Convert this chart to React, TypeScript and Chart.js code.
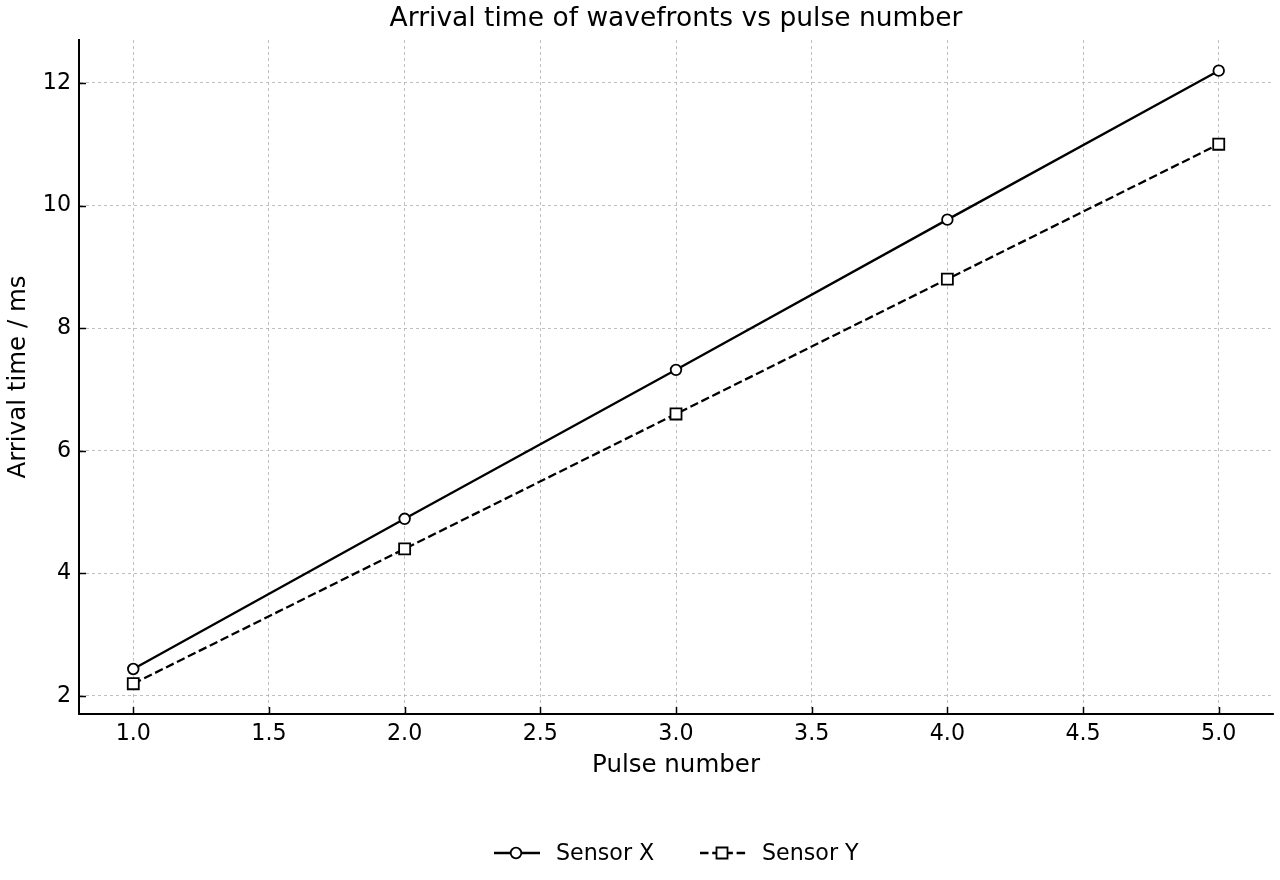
import { useEffect, useRef } from 'react';
import { Chart, registerables } from 'chart.js';

Chart.register(...registerables);

const FONT = '"DejaVu Sans", sans-serif';

const pulseNumbers = [1, 2, 3, 4, 5];
const sensorX = [2.44, 4.89, 7.32, 9.77, 12.2];
const sensorY = [2.2, 4.4, 6.6, 8.8, 11.0];
const xTickValues = [1.0, 1.5, 2.0, 2.5, 3.0, 3.5, 4.0, 4.5, 5.0];
const yTickValues = [2, 4, 6, 8, 10, 12];
const seriesNames = ['Sensor X', 'Sensor Y'];
const chartTitle = 'Arrival time of wavefronts vs pulse number';
const xLabel = 'Pulse number';
const yLabel = 'Arrival time / ms';

const DASH = [8.5, 3.7];
const LINE_W = 2.3;

const decorPlugin = {
  id: 'decor',
  afterDraw(chart: any) {
    const { ctx, chartArea, scales } = chart;
    const xs = scales.x;
    const ys = scales.y;
    ctx.save();
    // inward ticks
    ctx.strokeStyle = '#000';
    ctx.lineWidth = 1.5;
    ctx.setLineDash([]);
    ctx.beginPath();
    for (const v of yTickValues) {
      const py = Math.round(ys.getPixelForValue(v)) + 0.5;
      ctx.moveTo(chartArea.left, py);
      ctx.lineTo(chartArea.left + 7, py);
    }
    for (const v of xTickValues) {
      const px = Math.round(xs.getPixelForValue(v)) + 0.5;
      ctx.moveTo(px, chartArea.bottom);
      ctx.lineTo(px, chartArea.bottom - 7);
    }
    ctx.stroke();

    // title
    const cx = (chartArea.left + chartArea.right) / 2;
    ctx.fillStyle = '#000';
    ctx.font = `26.5px ${FONT}`;
    ctx.textAlign = 'center';
    ctx.textBaseline = 'middle';
    ctx.fillText(chartTitle, cx, 19);

    // legend
    const ly = 853;
    ctx.font = `22.2px ${FONT}`;
    ctx.textAlign = 'left';
    ctx.textBaseline = 'middle';
    const items = [
      { x0: cx - 182, dash: [] as number[], style: 'circle', name: seriesNames[0] },
      { x0: cx + 24, dash: DASH, style: 'rect', name: seriesNames[1] },
    ];
    for (const it of items) {
      ctx.strokeStyle = '#000';
      ctx.lineWidth = LINE_W;
      ctx.setLineDash(it.dash);
      ctx.beginPath();
      ctx.moveTo(it.x0, ly);
      ctx.lineTo(it.x0 + 46, ly);
      ctx.stroke();
      ctx.setLineDash([]);
      ctx.lineWidth = 1.8;
      ctx.fillStyle = '#fff';
      const mx = it.x0 + 22;
      ctx.beginPath();
      if (it.style === 'circle') {
        ctx.arc(mx, ly, 5.3, 0, Math.PI * 2);
      } else {
        ctx.rect(mx - 5.5, ly - 5.5, 11, 11);
      }
      ctx.fill();
      ctx.stroke();
      ctx.fillStyle = '#000';
      ctx.fillText(it.name, it.x0 + 62, ly + 1);
    }
    ctx.restore();
  },
};

export default function App() {
  const ref = useRef<HTMLCanvasElement>(null);
  useEffect(() => {
    const chart = new Chart(ref.current!, {
      type: 'line',
      data: {
        datasets: [
          {
            label: seriesNames[0],
            data: pulseNumbers.map((p, i) => ({ x: p, y: sensorX[i] })),
            borderColor: '#000',
            borderWidth: LINE_W,
            pointStyle: 'circle',
            pointRadius: 5.3,
            pointBackgroundColor: '#fff',
            pointBorderColor: '#000',
            pointBorderWidth: 1.8,
            tension: 0,
          },
          {
            label: seriesNames[1],
            data: pulseNumbers.map((p, i) => ({ x: p, y: sensorY[i] })),
            borderColor: '#000',
            borderWidth: LINE_W,
            borderDash: DASH,
            pointStyle: 'rect',
            pointRadius: 7.8,
            pointBackgroundColor: '#fff',
            pointBorderColor: '#000',
            pointBorderWidth: 1.8,
            tension: 0,
          },
        ],
      },
      options: {
        responsive: false,
        animation: false,
        devicePixelRatio: 1,
        layout: { autoPadding: false, padding: { left: 0, right: 7, top: 40, bottom: 96 } },
        plugins: {
          legend: { display: false },
          title: { display: false },
          tooltip: { enabled: false },
        },
        scales: {
          x: {
            type: 'linear',
            min: 0.8,
            max: 5.2,
            afterBuildTicks: (s: any) => {
              s.ticks = xTickValues.map((v) => ({ value: v }));
            },
            afterFit: (s: any) => {
              s.height = 70;
            },
            grid: { color: '#b0b0b0', lineWidth: 0.8, drawTicks: false },
            border: { display: true, color: '#000', width: 2, dash: [3, 3] },
            ticks: {
              color: '#000',
              font: { family: FONT, size: 22.2 },
              padding: 7,
              callback: (v: any) => Number(v).toFixed(1),
            },
            title: {
              display: true,
              text: xLabel,
              color: '#000',
              font: { family: FONT, size: 24.5 },
              padding: { top: 4, bottom: 4 },
            },
          },
          y: {
            type: 'linear',
            min: 1.706,
            max: 12.7,
            afterBuildTicks: (s: any) => {
              s.ticks = yTickValues.map((v) => ({ value: v }));
            },
            afterFit: (s: any) => {
              s.width = 79;
            },
            grid: { color: '#b0b0b0', lineWidth: 0.8, drawTicks: false },
            border: { display: true, color: '#000', width: 2, dash: [3, 3] },
            ticks: {
              color: '#000',
              font: { family: FONT, size: 22.2 },
              padding: 8,
              callback: (v: any) => String(Math.round(Number(v))),
            },
            title: {
              display: true,
              text: yLabel,
              color: '#000',
              font: { family: FONT, size: 24.5 },
              padding: { top: 4, bottom: 4 },
            },
          },
        },
      },
      plugins: [decorPlugin],
    });
    return () => chart.destroy();
  }, []);
  return (
    <div style={{ position: 'fixed', left: 0, top: 0, width: 1280, height: 880, background: '#fff' }}>
      <canvas ref={ref} width={1280} height={880} style={{ width: 1280, height: 880, display: 'block' }} />
    </div>
  );
}
